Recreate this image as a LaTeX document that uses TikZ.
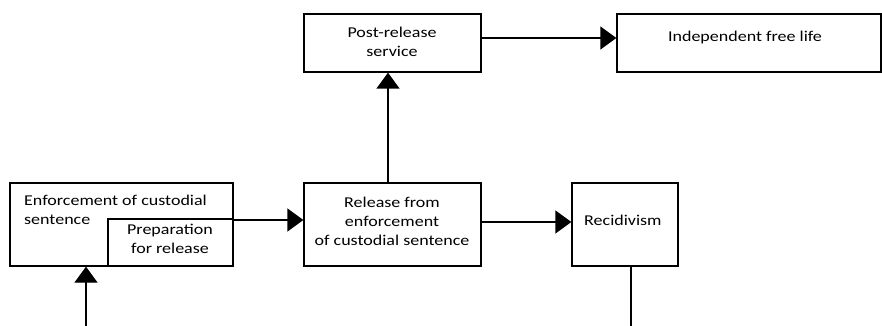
\documentclass[tikz,border=0pt]{standalone}
\usepackage{fontspec}
\setmainfont{Carlito}[FakeStretch=1.2]
\usetikzlibrary{arrows.meta,positioning,calc}
\begin{document}
\begin{tikzpicture}[x=1pt,y=-1pt,
  box/.style={draw,line width=1.3pt,inner sep=0pt,rectangle},
  txt/.style={inner sep=0pt,font=\fontsize{15}{19}\selectfont,align=center},
  conn/.style={line width=1.3pt,-{Triangle[length=16pt,width=23pt]}},
  plain/.style={line width=1.3pt}]
\useasboundingbox (0,0) rectangle (882,326);
% boxes
\node[box,minimum width=223pt,minimum height=83pt] (enf) at (121.5,224.5) {};
\node[box,minimum width=125pt,minimum height=47pt] (prep) at (170.5,242.5) {};
\node[box,minimum width=177pt,minimum height=83pt] (rel) at (392.5,224.5) {};
\node[box,minimum width=106pt,minimum height=83pt] (rec) at (625,224.5) {};
\node[box,minimum width=177pt,minimum height=58pt] (post) at (392.5,43) {};
\node[box,minimum width=264pt,minimum height=58pt] (ind) at (749,43) {};
% texts
\node[txt,align=left,anchor=north west] (enft) at (24,194.5) {Enforcement of custodial\\sentence};
\node[txt] (prept) at (170,239) {Preparation\\for release};
\node[txt] (relt) at (392,221) {Release from\\enforcement\\of custodial sentence};
\node[txt,anchor=west] (rect) at (584,220) {Recidivism};
\node[txt] (postt) at (392,41.5) {Post-release\\service};
\node[txt] (indt) at (745,38) {Independent free life};
% connectors
\coordinate (a1) at (233,220);
\draw[conn] (a1) -- (rel.west |- a1);
\coordinate (a2) at (481,222);
\draw[conn] (a2) -- (rec.west |- a2);
\coordinate (a3) at (388,183);
\draw[conn] (a3) -- (post.south -| a3);
\coordinate (a4) at (481,38);
\draw[conn] (a4) -- (ind.west |- a4);
\coordinate (b1) at (86,326);
\draw[conn] (b1) -- (enf.south -| b1);
\coordinate (b2) at (631,326);
\draw[plain] (rec.south -| b2) -- (b2);
\end{tikzpicture}
\end{document}
